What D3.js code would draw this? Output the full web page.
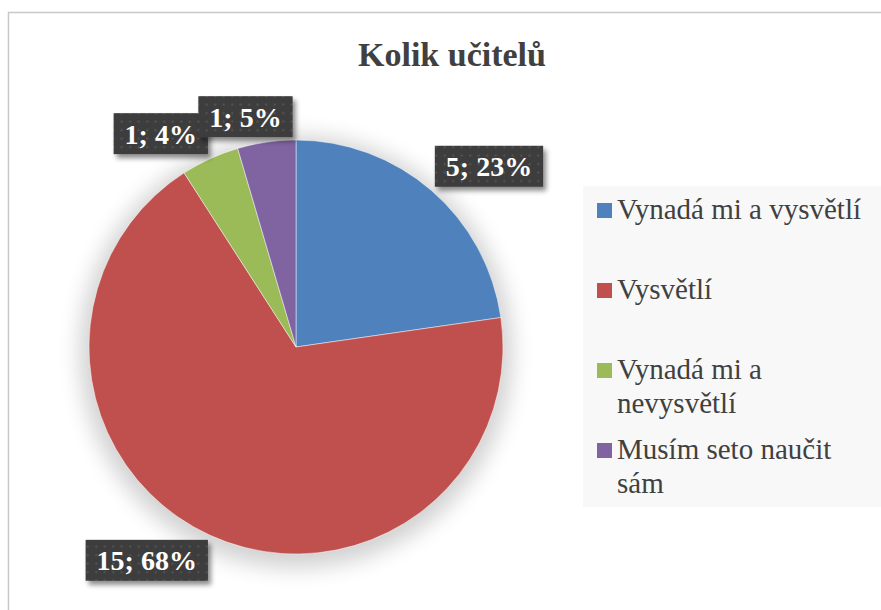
<!DOCTYPE html>
<html>
<head>
<meta charset="utf-8">
<script src="https://cdn.jsdelivr.net/npm/d3@7"></script>
<style>
  html, body { margin: 0; padding: 0; background: #fff; }
  svg { display: block; }
</style>
</head>
<body>
<svg id="chart" width="881" height="610"></svg>
<script>
const title = 'Kolik učitelů';
const categories = ['Vynadá mi a vysvětlí', 'Vysvětlí', 'Vynadá mi a nevysvětlí', 'Musím seto naučit sám'];
const values = [5, 15, 1, 1];
const percents = [23, 68, 4, 5];
const colors = ['#4f81bd', '#c0504d', '#9bbb59', '#8064a2'];

const width = 881, height = 610;
const cx = 296, cy = 347, radius = 207;
const textColor = '#404040';
const serif = 'Liberation Serif';

const svg = d3.select('#chart');
const defs = svg.append('defs');

// soft shadow behind the pie
const pieShadow = defs.append('filter').attr('id', 'pie-shadow')
  .attr('x', '-30%').attr('y', '-30%').attr('width', '160%').attr('height', '160%');
pieShadow.append('feGaussianBlur').attr('stdDeviation', 11);

// drop shadow of the label boxes
const boxShadow = defs.append('filter').attr('id', 'box-shadow')
  .attr('x', '-20%').attr('y', '-30%').attr('width', '150%').attr('height', '170%');
boxShadow.append('feDropShadow').attr('dx', 3).attr('dy', 4).attr('stdDeviation', 2.5)
  .attr('flood-color', '#000').attr('flood-opacity', 0.45);

const dots = defs.append('pattern').attr('id', 'dots').attr('patternUnits', 'userSpaceOnUse')
  .attr('width', 8.5).attr('height', 8.5);
dots.append('rect').attr('width', 8.5).attr('height', 8.5).attr('fill', '#3d3d3d');
dots.append('circle').attr('cx', 4.2).attr('cy', 4.2).attr('r', 1.1).attr('fill', '#575757');

// chart area border
svg.append('rect').attr('x', 8.5).attr('y', 12.5).attr('width', 900).attr('height', 640)
  .attr('fill', '#fff').attr('stroke', '#c8c8c8').attr('stroke-width', 1.5);

svg.append('text').attr('x', 452).attr('y', 66).attr('text-anchor', 'middle')
  .attr('font-family', serif)
  .attr('font-size', 34).attr('font-weight', 'bold').attr('fill', textColor).text(title);

// pie
const pie = d3.pie().sort(null).value(d => d)(values);
const arc = d3.arc().innerRadius(0).outerRadius(radius);

svg.append('circle').attr('cx', cx).attr('cy', cy + 5).attr('r', radius + 9)
  .attr('fill', '#000').attr('opacity', 0.18).attr('filter', 'url(#pie-shadow)');

const g = svg.append('g').attr('transform', `translate(${cx},${cy})`);
g.selectAll('path').data(pie).enter().append('path')
  .attr('d', arc)
  .attr('fill', (d, i) => colors[i])
  .attr('stroke', 'rgba(255,255,255,0.6)').attr('stroke-width', 0.8);

// data labels, "outside end" style
const clamp = v => Math.max(-1, Math.min(1, v));
const labelG = g.append('g');
pie.forEach((d, i) => {
  const mid = (d.startAngle + d.endAngle) / 2;
  const ax = Math.sin(mid) * (radius + 5);
  const ay = -Math.cos(mid) * (radius + 5);
  const lg = labelG.append('g');
  const txt = lg.append('text').attr('font-family', serif)
    .attr('font-size', 28).attr('font-weight', 'bold')
    .attr('fill', '#fff').attr('text-anchor', 'middle')
    .text(`${values[i]}; ${percents[i]}%`);
  const tw = txt.node().getComputedTextLength();
  const bw = tw + 22, bh = 41;
  const bx = ax + clamp(Math.sin(mid) / 0.33) * bw / 2;
  const by = ay + clamp(-Math.cos(mid) / 0.33) * bh / 2;
  lg.insert('rect', 'text').attr('x', bx - bw / 2).attr('y', by - bh / 2)
    .attr('width', bw).attr('height', bh).attr('fill', 'url(#dots)')
    .attr('filter', 'url(#box-shadow)');
  txt.attr('x', bx).attr('y', by + 10);
});

// legend
const legendX = 583, legendTop = 186, legendW = 300, legendH = 321;
svg.append('rect').attr('x', legendX).attr('y', legendTop).attr('width', legendW).attr('height', legendH)
  .attr('fill', '#f8f8f8');

const ly = d3.scalePoint().domain(categories).range([219, 459]);
const maxTextW = 258, lineH = 34;
const items = svg.append('g').selectAll('g').data(categories).enter().append('g')
  .attr('transform', d => `translate(${legendX + 14},${ly(d)})`);
items.append('rect').attr('x', 0).attr('y', -16).attr('width', 15).attr('height', 15)
  .attr('fill', (d, i) => colors[i]);
items.each(function (d) {
  const t = d3.select(this).append('text').attr('x', 20).attr('y', 0)
    .attr('font-family', serif)
    .attr('font-size', 29).attr('fill', textColor);
  const words = d.split(' ');
  let line = [];
  let tspan = t.append('tspan').attr('x', 20).attr('dy', 0);
  words.forEach(w => {
    line.push(w);
    tspan.text(line.join(' '));
    if (tspan.node().getComputedTextLength() > maxTextW && line.length > 1) {
      line.pop();
      tspan.text(line.join(' '));
      line = [w];
      tspan = t.append('tspan').attr('x', 20).attr('dy', lineH).text(w);
    }
  });
});
</script>
</body>
</html>
